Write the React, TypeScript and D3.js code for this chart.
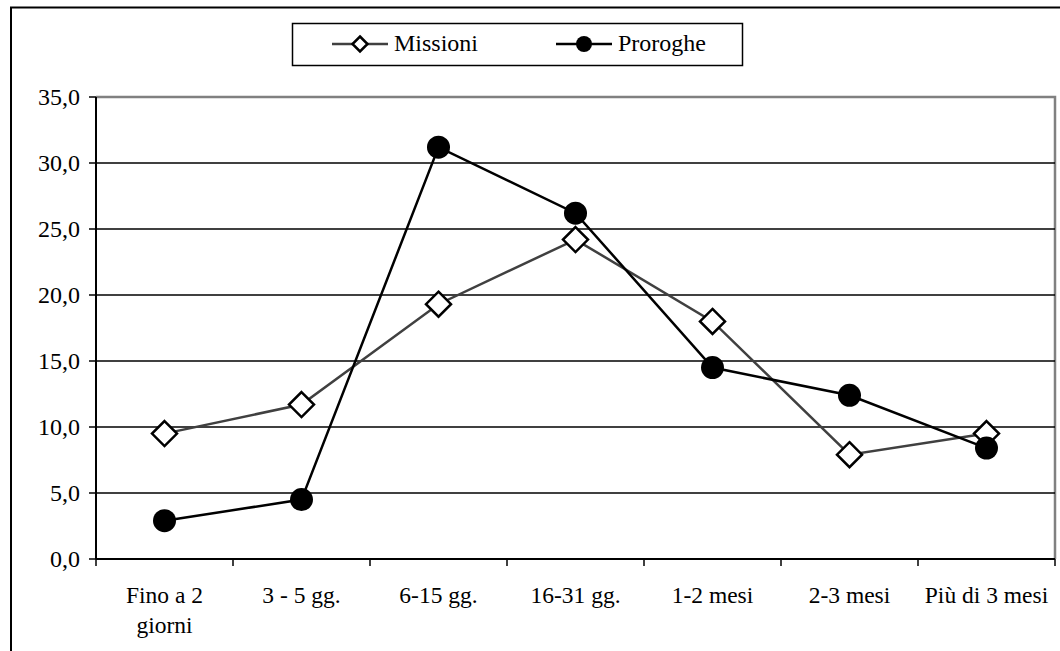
import React from "react";
import * as d3 from "d3";

const categories: string[][] = [
  ["Fino a 2", "giorni"],
  ["3 - 5 gg."],
  ["6-15 gg."],
  ["16-31 gg."],
  ["1-2 mesi"],
  ["2-3 mesi"],
  ["Più di 3 mesi"],
];
const missioni: number[] = [9.5, 11.7, 19.3, 24.2, 18.0, 7.9, 9.5];
const proroghe: number[] = [2.9, 4.5, 31.2, 26.2, 14.5, 12.4, 8.4];
const yTicks: number[] = [0, 5, 10, 15, 20, 25, 30, 35];

const W = 1060;
const H = 651;
const plot = { left: 96, top: 97, right: 1055, bottom: 559 };
const FONT = '"Liberation Serif", "Times New Roman", Tinos, "DejaVu Serif", serif';

export default function App() {
  const x = d3
    .scaleBand<number>()
    .domain(categories.map((_, i) => i))
    .range([plot.left, plot.right])
    .paddingInner(0)
    .paddingOuter(0);
  const y = d3.scaleLinear().domain([0, 35]).range([plot.bottom, plot.top]);
  const cx = (i: number) => (x(i) as number) + x.bandwidth() / 2;

  const line = d3
    .line<number>()
    .x((_, i) => cx(i))
    .y((d) => y(d));

  const fmt = (v: number) => v.toFixed(1).replace(".", ",");
  const diamond = (px: number, py: number, r: number) =>
    `M${px},${py - r}L${px + r},${py}L${px},${py + r}L${px - r},${py}Z`;

  const tickXs = categories.map((_, i) => x(i) as number).concat([plot.right]);
  const textStyle = { fontFamily: FONT };

  return (
    <svg
      width={W}
      height={H}
      style={{ position: "absolute", left: 0, top: 0, background: "#fff", fontFamily: FONT }}
    >
      {/* chart frame */}
      <rect x={11} y={7.5} width={1100} height={700} fill="none" stroke="#000" strokeWidth={2} />

      {/* plot area border (top and right) */}
      <path
        d={`M${plot.left},${plot.top}H${plot.right}V${plot.bottom}`}
        fill="none"
        stroke="#808080"
        strokeWidth={2.5}
      />

      {/* gridlines */}
      {yTicks
        .filter((t) => t > 0 && t < 35)
        .map((t) => (
          <line
            key={t}
            x1={plot.left}
            x2={plot.right}
            y1={y(t)}
            y2={y(t)}
            stroke="#000"
            strokeWidth={1.5}
          />
        ))}

      {/* y axis */}
      <line x1={plot.left} x2={plot.left} y1={plot.top} y2={plot.bottom} stroke="#000" strokeWidth={2} />
      {yTicks.map((t) => (
        <g key={t}>
          <line x1={plot.left - 7} x2={plot.left} y1={y(t)} y2={y(t)} stroke="#000" strokeWidth={1.5} />
          <text x={80} y={y(t)} dy="0.33em" textAnchor="end" fontSize={24} fill="#000" style={textStyle}>
            {fmt(t)}
          </text>
        </g>
      ))}

      {/* x axis */}
      <line x1={plot.left} x2={plot.right} y1={plot.bottom} y2={plot.bottom} stroke="#000" strokeWidth={2} />
      {tickXs.map((tx, i) => (
        <line key={i} x1={tx} x2={tx} y1={plot.bottom} y2={plot.bottom + 7} stroke="#000" strokeWidth={1.5} />
      ))}
      {categories.map((lines, i) => (
        <text key={i} x={cx(i)} y={603} textAnchor="middle" fontSize={23.5} fill="#000" style={textStyle}>
          {lines.map((l, j) => (
            <tspan key={j} x={cx(i)} dy={j === 0 ? 0 : 30}>
              {l}
            </tspan>
          ))}
        </text>
      ))}

      {/* Missioni series */}
      <path d={line(missioni) || ""} fill="none" stroke="#404040" strokeWidth={2.5} />
      {/* Proroghe series */}
      <path d={line(proroghe) || ""} fill="none" stroke="#000" strokeWidth={2.5} />
      {missioni.map((v, i) => (
        <path
          key={`m${i}`}
          d={diamond(cx(i), y(v), 12.5)}
          fill="#fff"
          stroke="#000"
          strokeWidth={2.5}
        />
      ))}
      {proroghe.map((v, i) => (
        <circle key={`p${i}`} cx={cx(i)} cy={y(v)} r={11.5} fill="#000" />
      ))}

      {/* legend */}
      <rect x={292.5} y={23.5} width={450} height={42} fill="#fff" stroke="#000" strokeWidth={1.5} />
      <line x1={332} x2={388} y1={44} y2={44} stroke="#404040" strokeWidth={2.5} />
      <path d={diamond(360, 44, 7.5)} fill="#fff" stroke="#000" strokeWidth={2.5} />
      <text x={394} y={51} fontSize={24} fill="#000" style={textStyle}>
        Missioni
      </text>
      <line x1={556} x2={612} y1={44} y2={44} stroke="#000" strokeWidth={2.5} />
      <circle cx={584} cy={44} r={8} fill="#000" />
      <text x={618} y={51} fontSize={24} fill="#000" style={textStyle}>
        Proroghe
      </text>
    </svg>
  );
}
